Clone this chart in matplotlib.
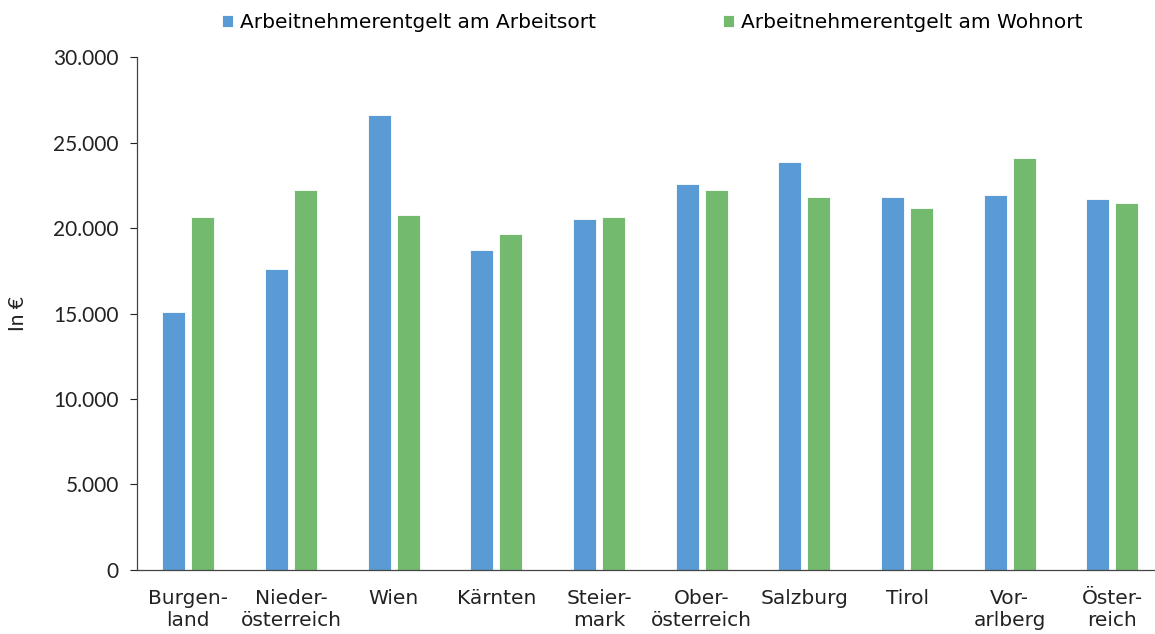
import numpy as np
import matplotlib
matplotlib.use('Agg')
from matplotlib import pyplot as plt

regions = ['Burgen-\nland', 'Nieder-\nösterreich', 'Wien', 'Kärnten', 'Steier-\nmark',
           'Ober-\nösterreich', 'Salzburg', 'Tirol', 'Vor-\narlberg', 'Öster-\nreich']
arbeitsort = [15100, 17600, 26600, 18700, 20550, 22550, 23850, 21800, 21950, 21700]
wohnort = [20650, 22200, 20750, 19650, 20650, 22200, 21800, 21200, 24100, 21450]
series_names = ['Arbeitnehmerentgelt am Arbeitsort', 'Arbeitnehmerentgelt am Wohnort']
yticks = [0, 5000, 10000, 15000, 20000, 25000, 30000]

plt.rcParams['font.family'] = ['Lato', 'DejaVu Sans']

fig = plt.figure(figsize=(11.55, 6.34), dpi=100)
ax = fig.add_axes([0.1186, 0.101, 0.889, 0.809])

x = np.arange(len(regions))
w = 0.224
ax.bar(x - 0.141, arbeitsort, w, color='#5B9BD5', edgecolor='white', linewidth=0.6,
       label=series_names[0])
ax.bar(x + 0.141, wohnort, w, color='#73BA6E', edgecolor='white', linewidth=0.6,
       label=series_names[1])

ax.set_xlim(-0.5, len(regions) - 0.5)
ax.set_ylim(0, 30000)
ax.set_yticks(yticks)
ax.set_yticklabels(['0' if v == 0 else f'{v:,}'.replace(',', '.') for v in yticks])
ax.set_xticks(x)
ax.set_xticklabels(regions, linespacing=1.15, family=['DejaVu Sans'])
ax.tick_params(axis='x', length=0, pad=14, labelsize=14.5, colors='#222222')
ax.tick_params(axis='y', length=5, width=0.8, pad=8, labelsize=15, colors='#222222',
               direction='out')
for s in ['top', 'right']:
    ax.spines[s].set_visible(False)
for s in ['left', 'bottom']:
    ax.spines[s].set_color('#444444')
    ax.spines[s].set_linewidth(0.9)
ax.set_ylabel('In €', fontsize=15, color='#222222', labelpad=18)

fig.legend(loc='upper center', bbox_to_anchor=(0.565, 1.008), ncol=2, frameon=False,
           prop={'family': 'DejaVu Sans', 'size': 14.5},
           handlelength=0.55, handleheight=0.55, handletextpad=0.35,
           columnspacing=6.3)

plt.savefig('out.png', dpi=100)
